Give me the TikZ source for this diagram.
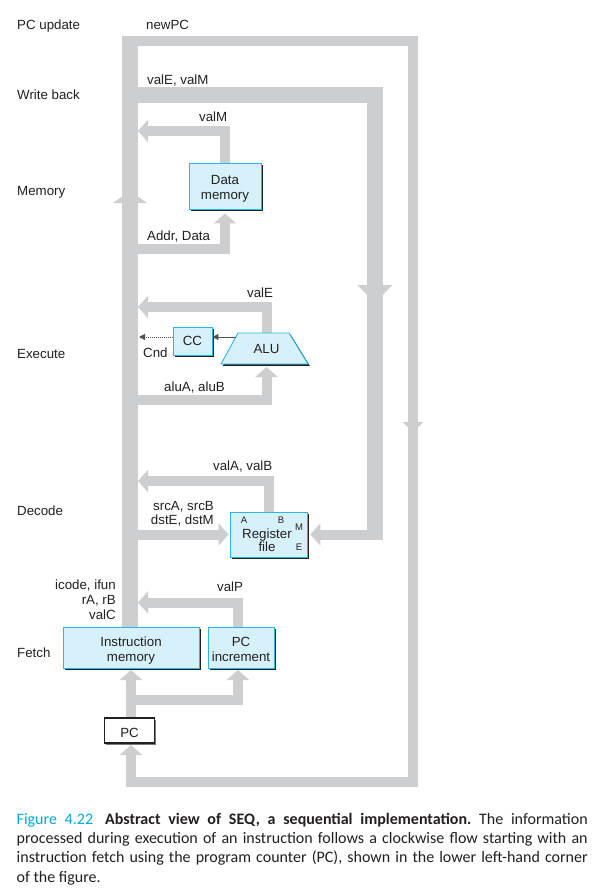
\documentclass[tikz,border=0pt]{standalone}
\usepackage{fontspec}
\setmainfont{Liberation Sans}
\newfontfamily\capfont{Carlito}
\usetikzlibrary{arrows.meta,shadows}
\definecolor{busgray}{RGB}{205,206,208}
\definecolor{boxfill}{RGB}{214,241,250}
\definecolor{boxline}{RGB}{40,184,232}
\definecolor{ink}{RGB}{35,31,32}
\definecolor{wire}{RGB}{80,80,82}
\definecolor{figcyan}{RGB}{0,168,228}
\pgfdeclarelayer{bg}
\pgfsetlayers{bg,main}
\begin{document}
\frenchspacing
\begin{tikzpicture}[x=1pt,y=-1pt,
  every node/.style={text=ink,inner sep=0pt,font=\fontsize{13.3}{15}\selectfont},
  lbl/.style={anchor=base west},
  lblr/.style={anchor=base east},
  lblc/.style={anchor=base},
  tinylbl/.style={anchor=base,font=\fontsize{9.5}{10}\selectfont},
  unitbox/.style={draw=boxline,line width=0.9pt,fill=boxfill,
    general shadow={fill=ink,shadow xshift=1.8pt,shadow yshift=-1.8pt}},
  pcbox/.style={draw=ink,line width=1.3pt,fill=white,
    general shadow={fill=ink!60,shadow xshift=1.5pt,shadow yshift=-1.5pt}},
  bus/.style={draw=busgray,line width=10pt},
  widebus/.style={draw=busgray,line width=16pt},
  bustip/.style={-{Triangle[width=22pt,length=10pt]}},
  wiretip/.style={-{Triangle[width=6pt,length=6pt]}},
]
\begin{pgfonlayer}{bg}
\fill[white] (0,0) rectangle (601,889);
\end{pgfonlayer}
\useasboundingbox (0,0) rectangle (601,889);

% ---------- stage labels ----------
\node[lbl] (lpc) at (17,29.3) {PC update};
\node[lbl] (lwb) at (17,99) {Write back};
\node[lbl] (lmem) at (17,195) {Memory};
\node[lbl] (lex) at (17,358) {Execute};
\node[lbl] (ldec) at (17,515) {Decode};
\node[lbl] (lfe) at (17,657) {Fetch};

% ---------- units ----------
\node[unitbox,minimum width=72pt,minimum height=46pt] (dm) at (225,186) {};
\node[lblc] (dmt1) at (225,184) {Data};
\node[lblc] (dmt2) at (225,199) {memory};

\node[unitbox,minimum width=39pt,minimum height=28pt] (cc) at (192.5,341) {};
\node[lblc] (cct) at (192.5,345) {CC};

\fill[ink] (239.8,334.8) -- (290.8,334.8) -- (309.8,365.8) -- (222.8,365.8) -- cycle;
\draw[boxline,line width=0.9pt,fill=boxfill] (238,333) -- (289,333) -- (308,364) -- (221,364) -- cycle;
\node[lblc] (alu) at (266.5,353) {ALU};
\coordinate (alutop) at (266.5,333);
\coordinate (alubot) at (266.5,367);
\coordinate (aluw) at (236,337);

\node[unitbox,minimum width=77pt,minimum height=45pt] (rf) at (268.5,534.5) {};
\node[tinylbl] (rfa) at (244,523) {A};
\node[tinylbl] (rfb) at (281,523) {B};
\node[tinylbl] (rfm) at (299,530) {M};
\node[tinylbl] (rfe) at (299,550.5) {E};
\node[lblc] (rft1) at (267,538) {Register};
\node[lblc] (rft2) at (267,551) {file};

\node[unitbox,minimum width=136pt,minimum height=41pt] (im) at (131,647.5) {};
\node[lblc] (imt1) at (131,646) {Instruction};
\node[lblc] (imt2) at (131,661) {memory};

\node[unitbox,minimum width=66pt,minimum height=41pt] (pci) at (241,647.5) {};
\node[lblc] (pcit1) at (241,646) {PC};
\node[lblc] (pcit2) at (241,661) {increment};

\node[pcbox,minimum width=50pt,minimum height=25pt] (pc) at (129.5,730.5) {};
\node[lblc] (pct) at (129.5,737) {PC};

% ---------- signal labels ----------
\node[lbl] (tnewpc) at (146,29.3) {newPC};
\node[lbl] (tvalem) at (147,84) {valE, valM};
\node[lbl] (tvalm) at (199,121) {valM};
\node[lbl] (taddr) at (147,240) {Addr, Data};
\node[lbl] (tvale) at (247,297) {valE};
\node[lbl] (tcnd) at (143,357) {Cnd};
\node[lbl] (talu) at (164,391) {aluA, aluB};
\node[lbl] (tvalab) at (213,470) {valA, valB};
\node[lblr] (tsrc) at (214,510) {srcA, srcB};
\node[lblr] (tdst) at (214,524) {dstE, dstM};
\node[lblr] (ticode) at (116,589) {icode, ifun};
\node[lblr] (trarb) at (116,604) {rA, rB};
\node[lblr] (tvalc) at (116,619) {valC};
\node[lbl] (tvalp) at (217,591) {valP};

% ---------- coordinates ----------
\coordinate (mtop) at (130,36);
\coordinate (pcin) at (131,745);
\coordinate (imin) at (131,670);
\coordinate (pciin) at (238,670);

% ---------- buses ----------
\begin{pgfonlayer}{bg}
\draw[bus,bustip] (122,41) -- (413,41) -- (413,782) -- (131,782) -- (pcin);
\fill[busgray] (402.5,422) -- (423.5,422) -- (413,432) -- cycle;

\draw[widebus] (im.north -| mtop) -- (mtop);
\fill[busgray] (113,203) -- (147,203) -- (130,191) -- cycle;

\draw[widebus] (130,95) -- (375,95) -- (375,540);
\fill[busgray] (357.5,285) -- (392.5,285) -- (375,303) -- cycle;
\draw[bus,bustip] (383,534.5) -- ([xshift=3pt]rf.east);

\draw[bus,bustip] (dm.north) |- (138,131);
\draw[bus,bustip] (130,249) -| ([yshift=-4pt]dm.south);

\draw[bus,bustip] (alutop) |- (138,307);
\draw[bus,bustip] (130,400) -| (alubot);

\draw[bus,bustip] (rf.north) |- (138,481);
\draw[bus,bustip] (rf.west -| mtop) -- ([xshift=-1pt]rf.west);

\draw[bus,bustip] ([xshift=-3pt]pci.north) |- (138,602.5);
\draw[bus,bustip] (pc.north -| pcin) -- (imin);
\draw[bus,bustip] (131,700) -| (pciin);
\end{pgfonlayer}

% ---------- thin wires ----------
\draw[wire,line width=1pt,wiretip] (aluw) -- (cc.east |- aluw);
\draw[wire,line width=1pt,dash pattern=on 1pt off 1pt,wiretip] (cc.west |- aluw) -- (139,337);

% ---------- caption ----------
\node[anchor=base west] (caption) at (16.5,813) {\parbox[t]{571pt}{\capfont\fontsize{16}{19.3}\selectfont\frenchspacing
{\color{figcyan}Figure 4.22}\hspace{12pt}\textbf{Abstract view of SEQ, a sequential implementation.} The information\linebreak
processed during execution of an instruction follows a clockwise flow starting with an\linebreak
instruction fetch using the program counter (PC), shown in the lower left-hand corner\linebreak
of the figure.}};
\end{tikzpicture}
\end{document}
